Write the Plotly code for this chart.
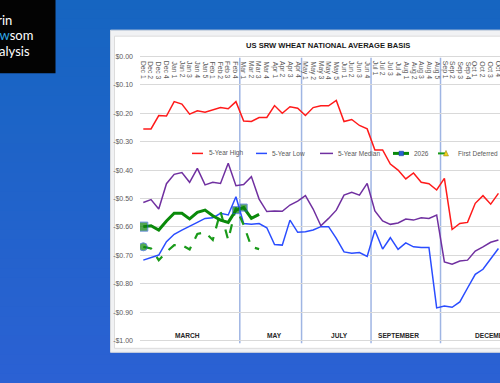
import plotly.graph_objects as go

# ---------------- data ----------------
months = ["Dec", "Jan", "Feb", "Mar", "Apr", "May", "Jun", "Jul", "Aug", "Sep", "Oct"]
weeks_per_month = [4, 5, 4, 4, 4, 5, 4, 4, 5, 4, 4]
categories = [f"{m} {w}" for m, n in zip(months, weeks_per_month) for w in range(1, n + 1)]

high_5yr = [-0.255, -0.255, -0.208, -0.210, -0.159, -0.168, -0.203, -0.191, -0.196, -0.187,
            -0.180, -0.184, -0.159, -0.227, -0.229, -0.215, -0.215, -0.173, -0.200, -0.177,
            -0.182, -0.208, -0.180, -0.174, -0.174, -0.155, -0.229, -0.222, -0.243, -0.255,
            -0.329, -0.329, -0.379, -0.400, -0.431, -0.410, -0.443, -0.448, -0.470, -0.429,
            -0.609, -0.588, -0.584, -0.517, -0.490, -0.520, -0.482]
low_5yr = [-0.717, -0.709, -0.699, -0.652, -0.626, -0.611, -0.596, -0.584, -0.570, -0.568,
           -0.552, -0.558, -0.494, -0.588, -0.591, -0.588, -0.603, -0.662, -0.664, -0.576,
           -0.619, -0.617, -0.611, -0.599, -0.599, -0.640, -0.688, -0.693, -0.690, -0.704,
           -0.612, -0.678, -0.638, -0.679, -0.656, -0.670, -0.672, -0.672, -0.885, -0.878,
           -0.883, -0.864, -0.815, -0.767, -0.749, -0.713, -0.676]
median_5yr = [-0.514, -0.504, -0.537, -0.448, -0.415, -0.409, -0.443, -0.394, -0.452, -0.443,
              -0.447, -0.376, -0.455, -0.451, -0.423, -0.502, -0.546, -0.544, -0.545, -0.523,
              -0.509, -0.490, -0.537, -0.596, -0.570, -0.541, -0.488, -0.478, -0.488, -0.447,
              -0.544, -0.579, -0.591, -0.586, -0.572, -0.576, -0.568, -0.570, -0.558, -0.723,
              -0.731, -0.720, -0.717, -0.685, -0.670, -0.654, -0.646]
basis_2026 = [-0.599, -0.596, -0.611, -0.579, -0.552, -0.552, -0.572, -0.549, -0.541, -0.561,
              -0.576, -0.584, -0.541, -0.532, -0.570, -0.556]
first_deferred = [-0.670, -0.676, -0.717, -0.688, -0.664, -0.664, -0.679, -0.625, -0.619, -0.646,
                  -0.546, -0.646, -0.532, -0.593, -0.670, -0.678]

ytick_vals = [0.0, -0.1, -0.2, -0.3, -0.4, -0.5, -0.6, -0.7, -0.8, -0.9, -1.0]
ytick_text = ["$0.00", "-$0.10", "-$0.20", "-$0.30", "-$0.40", "-$0.50",
              "-$0.60", "-$0.70", "-$0.80", "-$0.90", "-$1.00"]
contracts = ["MARCH", "MAY", "JULY", "SEPTEMBER", "DECEMBER"]

# ---------------- geometry helpers ----------------
W, H = 500, 383
L, R, T, B = 140.0, 500.0, 55.3, 341.7


def px(x):
    return (x - L) / (R - L)


def py(y):
    return (B - y) / (B - T)


FONT = "Liberation Sans, Arial, sans-serif"
GRAY = "#595959"

fig = go.Figure()

fig.add_trace(go.Scatter(x=categories, y=high_5yr, mode="lines", name="5-Year High",
                         line=dict(color="#ff1a1a", width=1.5), showlegend=False))
fig.add_trace(go.Scatter(x=categories, y=low_5yr, mode="lines", name="5-Year Low",
                         line=dict(color="#2a4dff", width=1.5), showlegend=False))
fig.add_trace(go.Scatter(x=categories, y=median_5yr, mode="lines", name="5-Year Median",
                         line=dict(color="#7030a0", width=1.5), showlegend=False))

fd_sizes = [8] + [0] * (len(first_deferred) - 1)
fig.add_trace(go.Scatter(x=categories[:len(first_deferred)], y=first_deferred, mode="lines+markers",
                         name="First Deferred",
                         line=dict(color="#1a9a1a", width=2.2, dash="dash"),
                         marker=dict(symbol="circle", size=fd_sizes, color="#0a8a0a",
                                     line=dict(color="#2a5fd0", width=1)),
                         showlegend=False))

b26_sizes = [0] * len(basis_2026)
b26_sizes[0] = 9
b26_sizes[12] = 7
b26_sizes[13] = 7
fig.add_trace(go.Scatter(x=categories[:len(basis_2026)], y=basis_2026, mode="lines+markers",
                         name="2026",
                         line=dict(color="#0a8a0a", width=3),
                         marker=dict(symbol="square", size=b26_sizes, color="#0a800a",
                                     line=dict(color="#2a5fd0", width=1)),
                         showlegend=False))

shapes = []
# background gradient
top_c = (22, 101, 193)
bot_c = (43, 97, 211)
nb = 40
for k in range(nb):
    f = k / (nb - 1)
    c = tuple(int(round(top_c[j] + (bot_c[j] - top_c[j]) * f)) for j in range(3))
    y0 = k * H / nb - (2 if k == 0 else 0)
    y1 = (k + 1) * H / nb + 1
    shapes.append(dict(type="rect", xref="paper", yref="paper", x0=px(-5), x1=px(505),
                       y0=py(y1), y1=py(y0), fillcolor=f"rgb{c}", line=dict(width=0), layer="below"))
# black logo box
shapes.append(dict(type="rect", xref="paper", yref="paper", x0=px(-5), x1=px(55.5),
                   y0=py(73.5), y1=py(-5), fillcolor="#030303", line=dict(width=0), layer="below"))
# chart panel
shapes.append(dict(type="rect", xref="paper", yref="paper", x0=px(110.5), x1=px(510),
                   y0=py(352), y1=py(30.5), fillcolor="#f1f2f4", line=dict(color="#d6d9de", width=1),
                   layer="below"))
shapes.append(dict(type="rect", xref="paper", yref="paper", x0=px(114.5), x1=px(510),
                   y0=py(348), y1=py(36.5), fillcolor="#ffffff", line=dict(color="#dcdcdc", width=1),
                   layer="below"))

# contract separators (after the last week of Feb, Apr, Jun, Aug)
sep_after = ["Feb", "Apr", "Jun", "Aug"]
c = 0
for m, n in zip(months, weeks_per_month):
    c += n
    if m in sep_after:
        shapes.append(dict(type="line", xref="x", yref="paper", x0=c - 0.5, x1=c - 0.5,
                           y0=py(343), y1=py(58), line=dict(color="#9fb5e3", width=1.5),
                           layer="between"))

annotations = []
# category labels hanging below the $0.00 line
for cat in categories:
    annotations.append(dict(text=cat, xref="x", yref="paper", x=cat, y=py(59.5),
                            xanchor="center", yanchor="top", textangle=90, showarrow=False,
                            font=dict(family=FONT, size=6.8, color=GRAY)))

# legend (drawn)
leg_y = 153.5
legend_items = [
    ("5-Year High", 192, 203, 207, "#ff1a1a", 1.5, "solid"),
    ("5-Year Low", 256, 267, 270, "#2a4dff", 1.5, "solid"),
    ("5-Year Median", 320, 333, 336, "#7030a0", 1.5, "solid"),
    ("2026", 393, 409, 412, "#0a8a0a", 3, "solid"),
    ("First Deferred", 438, 453, 456, "#1a9a1a", 2, "dash"),
]
for name, x0, x1, tx, col, w, dash in legend_items:
    shapes.append(dict(type="line", xref="paper", yref="paper", x0=px(x0), x1=px(x1),
                       y0=py(leg_y), y1=py(leg_y), line=dict(color=col, width=w, dash=dash)))
    annotations.append(dict(text=name, xref="paper", yref="paper", x=px(tx), y=py(leg_y),
                            xanchor="left", yanchor="middle", showarrow=False,
                            font=dict(family=FONT, size=6.5, color=GRAY)))
shapes.append(dict(type="rect", xref="paper", yref="paper", x0=px(399), x1=px(403.5),
                   y0=py(155.8), y1=py(151.3), fillcolor="#2a5fd0", line=dict(color="#1a3f9f", width=0.5)))
shapes.append(dict(type="path", xref="paper", yref="paper",
                   path=f"M {px(443.5)} {py(156)} L {px(448.5)} {py(156)} L {px(446)} {py(150.5)} Z",
                   fillcolor="#f2d21b", line=dict(color="#8a7a10", width=0.5)))

# title
annotations.append(dict(text="<b>US SRW WHEAT NATIONAL AVERAGE BASIS</b>", xref="paper", yref="paper",
                        x=px(328), y=py(45.5), xanchor="center", yanchor="middle", showarrow=False,
                        font=dict(family=FONT, size=7.6, color="#1a1a1a")))

# contract labels
contract_x = {"MARCH": 5.75, "MAY": 17.0, "JULY": 25.4, "SEPTEMBER": 33.0}
for name in contracts:
    if name in contract_x:
        annotations.append(dict(text=f"<b>{name}</b>", xref="x", yref="paper", x=contract_x[name],
                                y=py(335.5), xanchor="center", yanchor="middle", showarrow=False,
                                font=dict(family=FONT, size=6.6, color="#262626")))
    else:
        annotations.append(dict(text=f"<b>{name}</b>", xref="x", yref="paper", x=42.7,
                                y=py(335.5), xanchor="left", yanchor="middle", showarrow=False,
                                font=dict(family=FONT, size=6.6, color="#262626")))

# logo text (cut off at left edge)
logo_font = dict(family="Lato, Open Sans, sans-serif", size=13, color="#ffffff")
annotations.append(dict(text="Darin", xref="paper", yref="paper", x=px(13.5), y=py(20.5),
                        xanchor="right", yanchor="middle", showarrow=False, font=logo_font))
annotations.append(dict(text="<span style='color:#2fa8e6'>New</span>som", xref="paper", yref="paper",
                        x=px(35.5), y=py(35.5), xanchor="right", yanchor="middle", showarrow=False,
                        font=logo_font))
annotations.append(dict(text="Analysis", xref="paper", yref="paper", x=px(31.5), y=py(51),
                        xanchor="right", yanchor="middle", showarrow=False, font=logo_font))

fig.update_layout(
    width=W, height=H,
    margin=dict(l=L, r=W - R, t=T, b=H - B, pad=0),
    paper_bgcolor="#1d63c6",
    plot_bgcolor="rgba(0,0,0,0)",
    shapes=shapes,
    annotations=annotations,
    showlegend=False,
    xaxis=dict(type="category", categoryorder="array", categoryarray=categories,
               range=[(L - 143.3) / 7.72, (R - 143.3) / 7.72],
               showticklabels=False, showgrid=False, zeroline=False, showline=False, ticks=""),
    yaxis=dict(range=[-1.005, 0.005], tickvals=ytick_vals, ticktext=ytick_text,
               tickfont=dict(family=FONT, size=7, color=GRAY),
               showgrid=True, gridcolor="#d9d9d9", gridwidth=1,
               zeroline=False, showline=False, ticks="", ticklabelstandoff=6),
)

fig.write_html("out.html", config={"displayModeBar": False},
               post_script="document.body.style.margin='0';document.body.style.overflow='hidden';")
